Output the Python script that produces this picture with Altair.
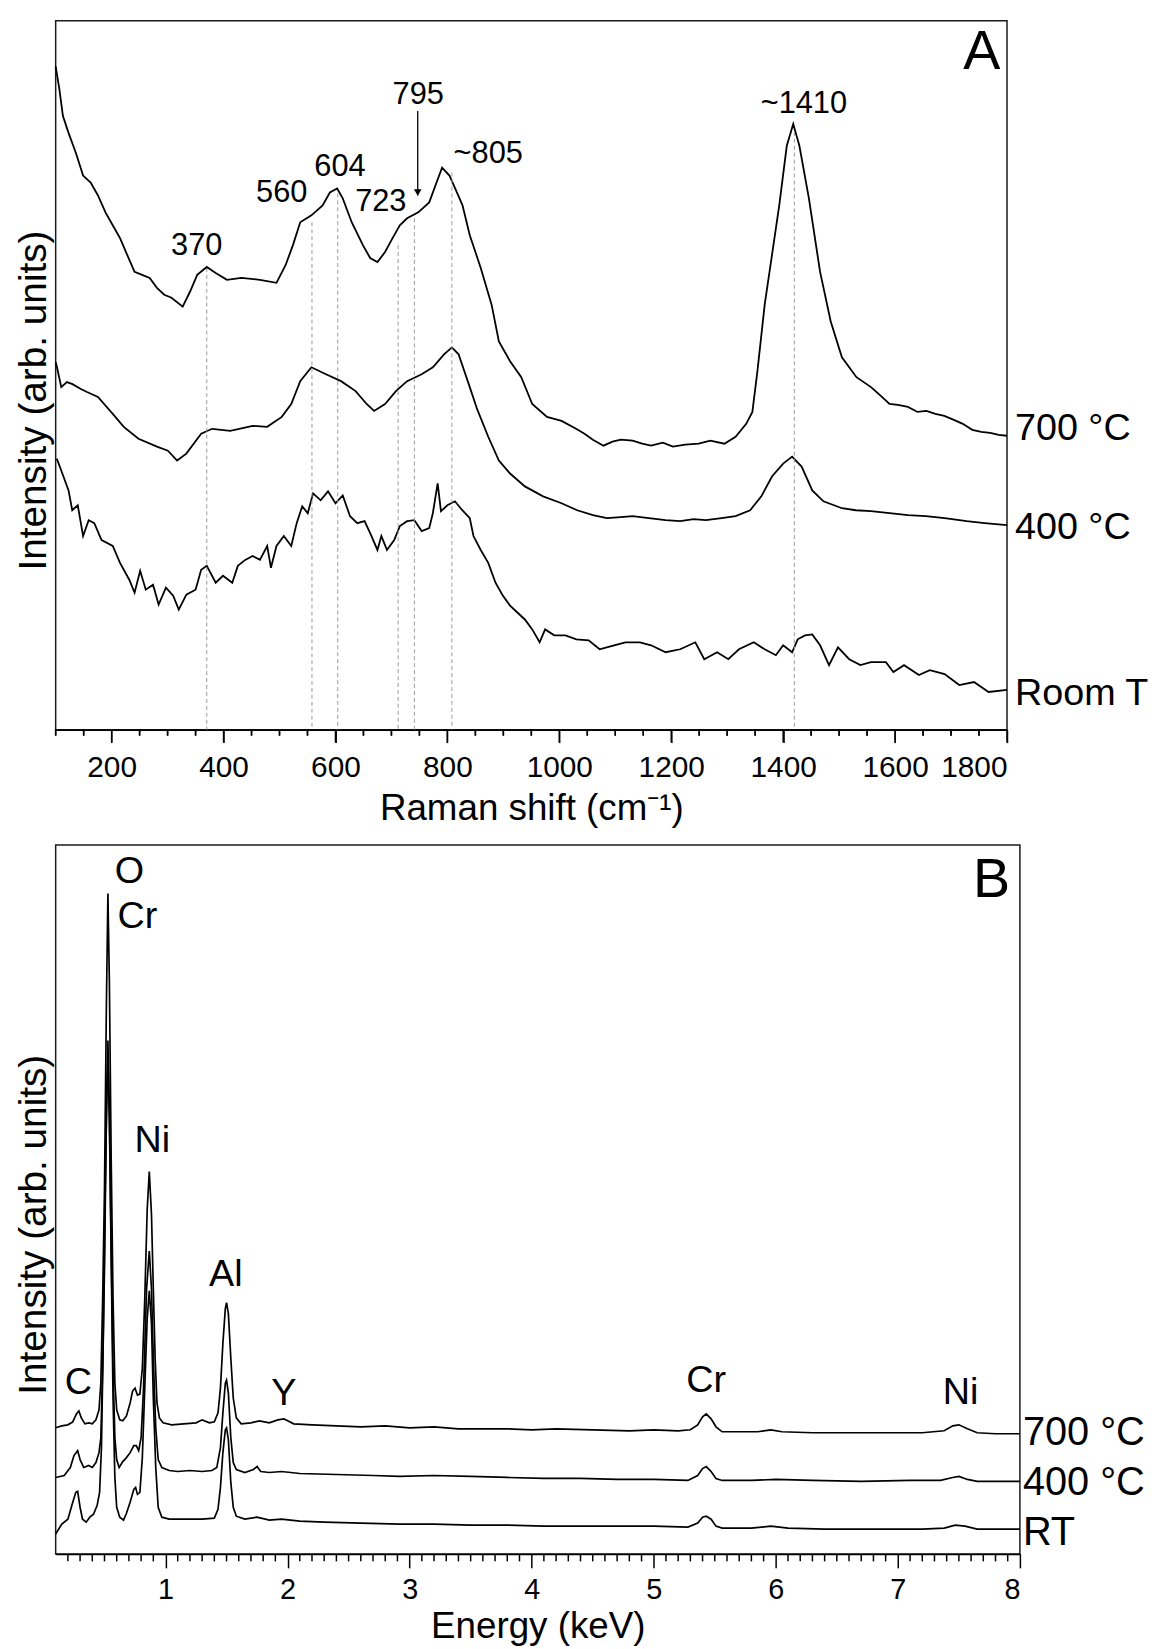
import altair as alt
import pandas as pd

FONT = "Liberation Sans"

# ---------------- Panel A : Raman spectra (arb. units) ----------------
raman_700_x = [100, 106.6, 113, 123, 136, 149, 162.5, 175.6, 189, 202, 215, 228, 241, 254.5, 268, 281, 294, 307, 327, 340,
               353, 370, 386, 406, 432, 465, 494.6, 511, 524, 537, 557, 577, 590, 603, 613, 629, 649, 662, 675, 688.6,
               702, 715, 728, 748, 767.5, 780.6, 790.5, 803.7, 817, 827, 840, 859.6, 879, 892, 912, 932, 951.6, 978, 1004, 1030,
               1045, 1060, 1079, 1095, 1110, 1131, 1148, 1164, 1185, 1203, 1225, 1249, 1270, 1295, 1315, 1334, 1345, 1354, 1367, 1380,
               1393, 1406.5, 1418, 1429, 1446, 1466, 1485, 1505, 1531, 1557, 1575, 1590, 1605, 1623, 1640, 1656, 1672, 1688, 1705, 1721,
               1738, 1754, 1770, 1785, 1800]
raman_700_y = [668, 645, 618, 601, 581, 558, 551, 538, 521, 508, 495, 478, 461, 458, 455, 445, 438, 435, 426, 441,
               458, 466, 460, 453, 455, 453, 450, 468, 488, 511, 518, 528, 541, 545, 535, 511, 488, 475, 471, 481,
               495, 508, 515, 521, 531, 551, 566, 558, 541, 528, 498, 465, 428, 391, 371, 355, 328, 315, 311, 303,
               298, 292, 286, 290, 292, 291, 288, 286, 289, 285, 287, 288, 291, 288, 295, 308, 320, 361, 428, 478,
               528, 588, 610, 588, 535, 461, 411, 375, 355, 345, 336, 328, 327, 325, 320, 321, 318, 316, 312, 308,
               302, 300, 299, 297, 296]

raman_400_x = [100, 102, 110, 120, 130, 145, 156, 175.6, 202, 221.7, 248, 281, 300.6, 317, 333.5, 360, 379.5, 412, 452, 478,
               504, 521, 537, 557, 583, 610, 636, 655.7, 669, 688.6, 708, 728, 754, 774, 794, 808, 820, 840, 853, 873,
               892, 912, 938.5, 971, 1004, 1032, 1060, 1085, 1110, 1131, 1160, 1190, 1216, 1240, 1262, 1290, 1315, 1341, 1361, 1380,
               1400, 1416, 1433, 1452, 1472, 1505, 1530, 1557, 1590, 1623, 1655, 1688.5, 1728, 1760, 1800]
raman_400_y = [370, 366, 345, 350, 348, 343, 340, 335, 318, 305, 293, 285, 281, 271, 278, 298, 303, 301, 306, 305,
               315, 328, 351, 365, 358, 351, 341, 328, 321, 328, 341, 351, 358, 365, 378, 385, 378, 345, 323, 295,
               271, 258, 245, 235, 228, 221, 216, 213, 214, 215, 213, 211, 210, 212, 211, 213, 215, 221, 235, 255,
               268, 275, 265, 241, 230, 223, 221, 220, 218, 216, 215, 213, 210, 208, 206]

raman_rt_x = [102, 110, 123, 129.6, 139.5, 149, 159, 169, 182, 202, 215, 231.5, 241, 251, 261, 274, 284, 297, 310, 320,
              333.5, 350, 360, 370, 386, 399, 415.6, 425.5, 438.7, 452, 465, 478, 484.7, 494.6, 507.7, 521, 530.7, 540.6, 550.5, 560,
              573.5, 586.7, 600, 613, 626, 639, 652, 662, 675, 682, 692, 705, 715, 728, 741, 754, 767.5, 774, 782.6, 788.5,
              800, 813.5, 826.6, 840, 846.6, 859.6, 873, 886, 899, 912, 925, 938.5, 951.6, 964.8, 974.6, 991, 1011, 1030.5, 1052.5, 1072,
              1098, 1118, 1144, 1164, 1190, 1216, 1243, 1259, 1282, 1302, 1321, 1347.5, 1367, 1387, 1400, 1416, 1426, 1439, 1452, 1466,
              1482, 1498, 1518, 1538, 1557, 1583.6, 1597, 1616, 1642.6, 1662, 1688.5, 1714.7, 1741, 1767, 1800]
raman_rt_y = [273, 261, 241, 221, 226, 195, 211, 208, 191, 185, 168, 151, 138, 160, 141, 146, 126, 143, 135, 121,
              136, 141, 161, 165, 148, 155, 148, 165, 171, 175, 171, 185, 163, 185, 195, 185, 208, 225, 218, 238,
              231, 240, 228, 236, 215, 208, 210, 198, 181, 195, 181, 191, 205, 210, 211, 200, 203, 218, 248, 220,
              226, 230, 221, 213, 195, 181, 168, 148, 135, 125, 118, 111, 101, 88, 101, 95, 95, 91, 90, 81,
              85, 88, 88, 85, 78, 81, 88, 71, 78, 71, 81, 88, 81, 75, 85, 78, 91, 95, 96, 85,
              65, 83, 71, 65, 68, 68, 58, 65, 55, 60, 56, 45, 48, 38, 40]

peak_lines_x = [370, 558, 604, 712, 741, 808, 1420]
peak_lines_top = [465, 511, 540, 488, 515, 561, 602]
peak_lines_base = [0, 0, 0, 0, 0, 0, 0]

raman_ann_text = ["370", "560", "604", "723", "795", "~805", "~1410"]
raman_ann_x = [352, 504, 608, 681, 748, 873, 1437]
raman_ann_y = [478, 531, 558, 522, 630, 571, 621]

arrow_x = [747]
arrow_top = [623]
arrow_tip = [538]
arrow_head_y = [541]

raman_series_labels = ["700 °C", "400 °C", "Room T"]
raman_series_label_y = [303, 203, 36]

# ---------------- Panel B : EDS spectra (arb. units) ----------------
eds_700_x = [0.1, 0.15, 0.20, 0.24, 0.27, 0.29, 0.31, 0.34, 0.37, 0.40, 0.43, 0.455, 0.47, 0.485, 0.50, 0.515, 0.528, 0.54, 0.555, 0.57,
             0.585, 0.60, 0.625, 0.65, 0.68, 0.71, 0.73, 0.75, 0.77, 0.79, 0.81, 0.83, 0.85, 0.867, 0.885, 0.90, 0.915, 0.93, 0.95, 0.98,
             1.05, 1.15, 1.25, 1.30, 1.36, 1.40, 1.43, 1.45, 1.47, 1.49, 1.50, 1.515, 1.535, 1.555, 1.58, 1.62, 1.70, 1.77, 1.85, 1.92,
             1.97, 2.05, 2.2, 2.4, 2.6, 2.8, 3.0, 3.2, 3.4, 3.6, 3.8, 4.0, 4.2, 4.5, 4.8, 5.0, 5.2, 5.30, 5.36, 5.40,
             5.43, 5.47, 5.51, 5.56, 5.7, 5.85, 5.96, 6.05, 6.3, 6.6, 6.9, 7.2, 7.38, 7.45, 7.50, 7.57, 7.65, 7.8, 8.0]
eds_700_y = [127, 129, 130, 133, 141, 144, 137, 131, 132, 131, 135, 145, 172, 257, 367, 547, 665, 577, 397, 257,
             172, 145, 135, 134, 139, 152, 164, 167, 160, 161, 187, 257, 347, 385, 342, 267, 197, 152, 137, 132,
             130, 131, 132, 135, 132, 133, 142, 167, 212, 247, 253, 242, 197, 157, 137, 131, 132, 134, 132, 135,
             136, 131, 130, 129, 128, 129, 127, 128, 126, 126, 126, 125, 126, 125, 124, 125, 124, 125, 130, 138,
             141, 136, 128, 123, 123, 123, 125, 123, 122, 122, 122, 122, 124, 129, 130, 126, 122, 121, 121]

eds_400_x = [0.1, 0.17, 0.22, 0.25, 0.28, 0.30, 0.33, 0.37, 0.40, 0.43, 0.455, 0.47, 0.485, 0.50, 0.515, 0.528, 0.54, 0.555, 0.57, 0.585,
             0.60, 0.62, 0.65, 0.68, 0.71, 0.74, 0.76, 0.78, 0.80, 0.82, 0.845, 0.867, 0.885, 0.90, 0.92, 0.94, 0.97, 1.03, 1.1, 1.2,
             1.3, 1.38, 1.42, 1.45, 1.47, 1.49, 1.50, 1.515, 1.535, 1.555, 1.58, 1.65, 1.72, 1.75, 1.78, 1.85, 1.95, 2.1, 2.4, 2.7,
             2.92, 3.2, 3.5, 3.8, 4.1, 4.4, 4.7, 5.0, 5.28, 5.36, 5.40, 5.43, 5.47, 5.51, 5.56, 5.8, 6.0, 6.3, 6.7, 7.1,
             7.35, 7.45, 7.50, 7.57, 7.65, 8.0]
eds_400_y = [77, 79, 87, 99, 104, 95, 87, 89, 87, 92, 102, 117, 187, 287, 437, 517, 447, 307, 187, 117,
             95, 87, 93, 97, 102, 109, 109, 104, 117, 167, 267, 305, 267, 197, 127, 95, 87, 84, 83, 84,
             83, 84, 87, 107, 142, 172, 175, 162, 117, 92, 85, 82, 85, 88, 83, 82, 83, 81, 80, 79,
             78, 79, 78, 77, 76, 76, 75, 75, 74, 79, 86, 88, 83, 76, 74, 74, 75, 74, 73, 74,
             74, 77, 78, 75, 73, 73]

eds_rt_x = [0.1, 0.15, 0.20, 0.24, 0.265, 0.28, 0.30, 0.32, 0.35, 0.38, 0.41, 0.44, 0.46, 0.475, 0.49, 0.505, 0.52, 0.528, 0.54, 0.555,
            0.57, 0.585, 0.60, 0.625, 0.656, 0.68, 0.71, 0.74, 0.755, 0.77, 0.79, 0.81, 0.83, 0.85, 0.867, 0.885, 0.90, 0.92, 0.94, 0.97,
            1.03, 1.15, 1.3, 1.4, 1.43, 1.45, 1.47, 1.49, 1.50, 1.515, 1.535, 1.555, 1.58, 1.65, 1.75, 1.85, 1.95, 2.1, 2.3, 2.6,
            2.92, 3.2, 3.5, 3.8, 4.1, 4.4, 4.7, 5.0, 5.28, 5.36, 5.40, 5.43, 5.47, 5.51, 5.56, 5.8, 5.96, 6.1, 6.4, 6.8,
            7.2, 7.38, 7.47, 7.55, 7.65, 8.0]
eds_rt_y = [20, 30, 35, 52, 62, 63, 47, 35, 32, 37, 40, 49, 62, 107, 217, 357, 467, 502, 437, 297,
            157, 77, 47, 37, 34, 41, 52, 65, 67, 60, 62, 97, 167, 237, 265, 232, 157, 87, 47, 37,
            35, 35, 35, 36, 45, 67, 102, 125, 127, 115, 72, 47, 38, 35, 37, 34, 35, 33, 32, 31,
            30, 30, 29, 29, 28, 28, 28, 28, 27, 31, 37, 38, 35, 28, 26, 26, 28, 26, 25, 25,
            25, 26, 29, 28, 25, 25]

eds_elem_text = ["O", "Cr", "Ni", "Al", "C", "Y", "Cr", "Ni"]
eds_elem_x = [0.705, 0.77, 0.892, 1.494, 0.287, 1.97, 5.43, 7.514]
eds_elem_y = [676, 630, 405, 270, 161, 150, 163, 151]

eds_series_labels = ["700 °C", "400 °C", "RT"]
eds_series_label_y = [122, 71, 21]

# axis tick positions
raman_major = [200 * i for i in range(1, 10)]
raman_minor = [100 + 50 * i for i in range(35) if (100 + 50 * i) % 200 != 0]
eds_major = [1, 2, 3, 4, 5, 6, 7, 8]
eds_minor = [round(0.1 * i, 1) for i in range(2, 80) if i % 10 != 0]

PLOT_H = 714

# ---------------- data frames ----------------
def series_df(xs, ys, name):
    return pd.DataFrame({"x": xs, "y": ys, "series": name})

raman_df = pd.concat([series_df(raman_700_x, raman_700_y, "700"),
                      series_df(raman_400_x, raman_400_y, "400"),
                      series_df(raman_rt_x, raman_rt_y, "RT")])
eds_df = pd.concat([series_df(eds_700_x, eds_700_y, "700"),
                    series_df(eds_400_x, eds_400_y, "400"),
                    series_df(eds_rt_x, eds_rt_y, "RT")])

peak_df = pd.DataFrame({"x": peak_lines_x, "y": peak_lines_top, "base": peak_lines_base})
ann_df = pd.DataFrame({"x": raman_ann_x, "y": raman_ann_y, "label": raman_ann_text})
arrow_df = pd.DataFrame({"x": arrow_x, "y": arrow_top, "tip": arrow_tip})
head_df = pd.DataFrame({"x": arrow_x, "y": arrow_head_y})
rlab_a = pd.DataFrame({"x": [1800] * 3, "y": raman_series_label_y, "label": raman_series_labels})
plab_a = pd.DataFrame({"x": [1788], "y": [665], "label": ["A"]})

elem_df = pd.DataFrame({"x": eds_elem_x, "y": eds_elem_y, "label": eds_elem_text})
rlab_b = pd.DataFrame({"x": [8.0] * 3, "y": eds_series_label_y, "label": eds_series_labels})
plab_b = pd.DataFrame({"x": [7.92], "y": [662], "label": ["B"]})

# ---------------- encodings ----------------
def y_enc():
    return alt.Y("y:Q", scale=alt.Scale(domain=[0, 714], nice=False, zero=False),
                 axis=alt.Axis(title="Intensity (arb. units)", labels=False, ticks=False, domain=False, grid=False,
                               titleFont=FONT, titleFontSize=39, titleFontWeight="normal", titleColor="black",
                               titleX=-10, titleY=382, titleAngle=270, titleBaseline="alphabetic",
                               titleAlign="center"))

x_a = alt.X("x:Q", scale=alt.Scale(domain=[100, 1800], nice=False, zero=False),
            axis=alt.Axis(values=raman_major, labelExpr="format(datum.value, 'd')",
                          ticks=True, tickSize=13, tickWidth=1.5, tickColor="black",
                          labelFont=FONT, labelFontSize=30, labelColor="black", labelPadding=10,
                          title="Raman shift (cm⁻¹)", titleFont=FONT, titleFontSize=37, titleFontWeight="normal",
                          titleColor="black", titleY=90, titleBaseline="alphabetic", grid=False))

x_b = alt.X("x:Q", scale=alt.Scale(domain=[0.1, 8], nice=False, zero=False),
            axis=alt.Axis(values=eds_major, labelExpr="format(datum.value, 'd')",
                          ticks=True, tickSize=14, tickWidth=1.5, tickColor="black",
                          labelFont=FONT, labelFontSize=29, labelColor="black", labelPadding=8,
                          title="Energy (keV)", titleFont=FONT, titleFontSize=37, titleFontWeight="normal",
                          titleColor="black", titleY=84, titleBaseline="alphabetic", grid=False))


def minor_ticks(values, x_enc, length):
    df = pd.DataFrame({"x": values})
    return alt.Chart(df).mark_rule(color="black", strokeWidth=1.5).encode(
        x=x_enc, y=alt.value(PLOT_H), y2=alt.value(PLOT_H + length))


def data_ticks(values, x_enc, length):
    # same ticks drawn in the intensity units of the panel (1 unit = 1 px of the 714-unit scale)
    df = pd.DataFrame({"x": values, "y": [0] * len(values), "yb": [-length] * len(values)})
    return alt.Chart(df).mark_rule(color="black", strokeWidth=1.5, clip=False).encode(
        x=x_enc, y=y_enc(), y2="yb:Q")


# ---------------- panel A ----------------
a_peaks = alt.Chart(peak_df).mark_rule(color="#9a9a9a", strokeWidth=1, strokeDash=[4, 3]).encode(
    x=x_a, y=y_enc(), y2="base:Q")
a_lines = alt.Chart(raman_df).mark_line(color="black", strokeWidth=1.8).encode(
    x=x_a, y=y_enc(), detail="series:N")
a_ann = alt.Chart(ann_df).mark_text(font=FONT, fontSize=31, color="black", baseline="alphabetic", align="center").encode(
    x=x_a, y=y_enc(), text="label:N")
a_arrow = alt.Chart(arrow_df).mark_rule(color="black", strokeWidth=1.3).encode(
    x=x_a, y=y_enc(), y2="tip:Q")
a_head = alt.Chart(head_df).mark_point(shape="triangle-down", size=60, filled=True, color="black",
                                       opacity=1).encode(x=x_a, y=y_enc())
a_rlab = alt.Chart(rlab_a).mark_text(font=FONT, fontSize=38, color="black", align="left", baseline="middle", dx=8).encode(
    x=x_a, y=y_enc(), text="label:N")
a_plab = alt.Chart(plab_a).mark_text(font=FONT, fontSize=56, color="black", align="right", baseline="alphabetic").encode(
    x=x_a, y=y_enc(), text="label:N")

panel_a = alt.layer(a_lines, a_peaks, a_ann, a_arrow, a_head, a_rlab, a_plab,
                    minor_ticks(raman_minor, x_a, 6),
                    data_ticks(raman_minor, x_a, 6), data_ticks(raman_major, x_a, 13)
                    ).properties(width=958, height=PLOT_H)

# ---------------- panel B ----------------
b_lines = alt.Chart(eds_df).mark_line(color="black", strokeWidth=1.7).encode(
    x=x_b, y=y_enc(), detail="series:N")
b_elem = alt.Chart(elem_df).mark_text(font=FONT, fontSize=38, color="black", baseline="alphabetic", align="center").encode(
    x=x_b, y=y_enc(), text="label:N")
b_rlab = alt.Chart(rlab_b).mark_text(font=FONT, fontSize=40, color="black", align="left", baseline="middle", dx=3).encode(
    x=x_b, y=y_enc(), text="label:N")
b_plab = alt.Chart(plab_b).mark_text(font=FONT, fontSize=56, color="black", align="right", baseline="alphabetic").encode(
    x=x_b, y=y_enc(), text="label:N")

panel_b = alt.layer(minor_ticks(eds_minor, x_b, 7.5), b_lines, b_elem, b_rlab, b_plab
                    ).properties(width=971, height=PLOT_H)

chart = alt.vconcat(panel_a, panel_b, spacing=17).properties(
    padding={"left": 6, "top": 6, "right": 0, "bottom": 0}
).configure_view(
    stroke="#1a1a1a", strokeWidth=1.5
).configure_axis(
    domainColor="black", domainWidth=1.5
)

chart.save("out.html", embed_options={"renderer": "svg", "actions": False})
